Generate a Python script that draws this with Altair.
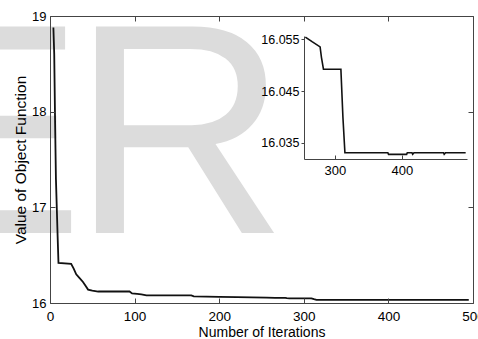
import altair as alt
import pandas as pd

FONT = "Liberation Sans"

iterations = [4, 5, 6, 7, 8, 9, 10, 25, 28, 31, 35, 39, 42, 45, 50, 57, 94, 97,
              103, 108, 114, 167, 170, 200, 221, 256, 266, 278, 280, 283, 309,
              312, 315, 379, 380, 407, 408, 415, 416, 418, 462, 463, 465, 495]
values = [18.88, 18.6, 17.9, 17.3, 17.0, 16.7, 16.42, 16.41, 16.36, 16.3, 16.26,
          16.22, 16.18, 16.14, 16.13, 16.12, 16.12, 16.10, 16.095, 16.09, 16.08,
          16.08, 16.07, 16.065, 16.062, 16.0554, 16.0545, 16.0535, 16.0515,
          16.0492, 16.0492, 16.040, 16.0331, 16.0331, 16.0328, 16.0328, 16.0331,
          16.0331, 16.0328, 16.0331, 16.0331, 16.0328, 16.0331, 16.0331]

main_x_ticks = [0, 100, 200, 300, 400, 500]
main_y_ticks = [16, 17, 18, 19]
inset_x_ticks = [300, 400]
inset_y_ticks = [16.035, 16.045, 16.055]
watermark_left = ["IJSE"]
watermark_right = ["R"]

df = pd.DataFrame({"iter": iterations, "value": values})
inset_df = df[df["iter"] >= 254]

W, H = 423, 287
AX = dict(labelFont=FONT, titleFont=FONT, labelColor="black", titleColor="black",
          domainColor="#444444", tickColor="#444444", grid=False,
          titleFontWeight="normal", labelFlush=False, zindex=1)

xs = alt.Scale(domain=[0, 500], nice=False)
ys = alt.Scale(domain=[16, 19], nice=False, zero=False)

WM = dict(font=FONT, fontSize=300, color="#dcdcdc", align="right", baseline="alphabetic")
wm1 = alt.Chart(pd.DataFrame({"t": watermark_left})).mark_text(**WM).encode(
    text="t:N", x=alt.value(34), y=alt.value(217))
wm2 = alt.Chart(pd.DataFrame({"t": watermark_right})).mark_text(**WM).encode(
    text="t:N", x=alt.value(238), y=alt.value(217))

main = alt.Chart(df).mark_line(color="#111111", strokeWidth=1.8).encode(
    x=alt.X("iter:Q", scale=xs, axis=alt.Axis(
        orient="bottom", values=main_x_ticks, ticks=False, labelFontSize=13.5,
        labelPadding=6, title="Number of Iterations", titleFontSize=14,
        titlePadding=3, format="d", **AX)),
    y=alt.Y("value:Q", scale=ys, axis=alt.Axis(
        orient="left", values=main_y_ticks, ticks=False, labelFontSize=13,
        labelPadding=4, title="Value of Object Function", titleFontSize=15.5,
        titlePadding=3, format="d", **AX)),
)

ticks_in = alt.Chart(df).mark_point(opacity=0).encode(
    x=alt.X("iter:Q", scale=xs, axis=alt.Axis(
        orient="top", offset=-H, values=main_x_ticks, labels=False, domain=False,
        tickSize=5, title=None, **AX)),
    y=alt.Y("value:Q", scale=ys, axis=alt.Axis(
        orient="right", offset=-W, values=main_y_ticks, labels=False, domain=False,
        tickSize=5, title=None, **AX)),
)

box = alt.Chart(df).mark_point(opacity=0).encode(
    x=alt.X("iter:Q", scale=xs, axis=alt.Axis(
        orient="bottom", offset=-H, values=main_x_ticks, labels=False,
        tickSize=5, title=None, **AX)),
    y=alt.Y("value:Q", scale=ys, axis=alt.Axis(
        orient="left", offset=-W, values=main_y_ticks, labels=False,
        tickSize=5, title=None, **AX)),
)

ixs = alt.Scale(domain=[254, 497], range=[254, 417], nice=False)
iys = alt.Scale(domain=[16.0319, 16.0556], range=[143, 20], nice=False, zero=False)

inset = alt.Chart(inset_df).mark_line(color="#111111", strokeWidth=1.6).encode(
    x=alt.X("iter:Q", scale=ixs, axis=alt.Axis(
        orient="bottom", offset=-(H - 143), values=inset_x_ticks, ticks=False,
        labelFontSize=13, labelPadding=5, title=None, format="d", **AX)),
    y=alt.Y("value:Q", scale=iys, axis=alt.Axis(
        orient="left", offset=-254, values=inset_y_ticks, tickSize=3,
        labelFontSize=12.5, labelPadding=2, title=None, format=".3f", **AX)),
)

inset_ticks = alt.Chart(inset_df).mark_point(opacity=0).encode(
    x=alt.X("iter:Q", scale=ixs, axis=alt.Axis(
        orient="top", offset=-143, values=inset_x_ticks, labels=False,
        domain=False, tickSize=4, title=None, **AX)),
    y=alt.Y("value:Q", scale=iys, axis=None),
)

chart = alt.layer(wm1, wm2, main, ticks_in, box, inset, inset_ticks).resolve_scale(
    x="independent", y="independent"
).resolve_axis(
    x="independent", y="independent"
).properties(
    width=W, height=H,
    autosize=alt.AutoSizeParams(type="none"),
    padding={"left": 50, "top": 16, "right": 5, "bottom": 36},
    background="white",
).configure_view(stroke=None)

chart.save("out.html", embed_options={"renderer": "svg", "actions": False})
